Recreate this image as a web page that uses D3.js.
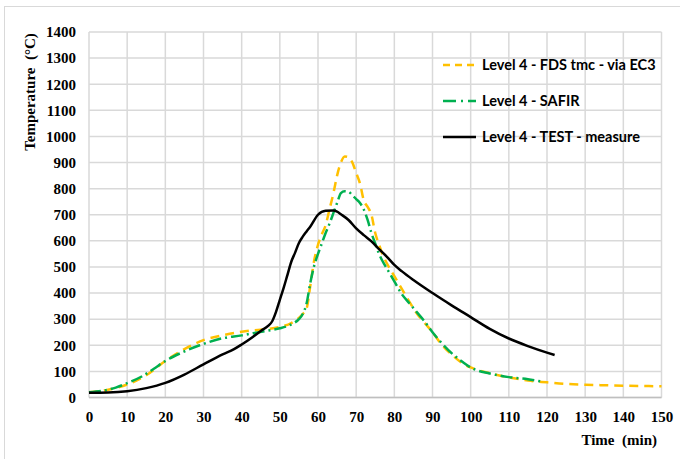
<!DOCTYPE html>
<html>
<head>
<meta charset="utf-8">
<script src="https://cdn.jsdelivr.net/npm/d3@7"></script>
<style>
  body { margin: 0; background: #fff; }
  svg { display: block; }
  .tick text { font-family: 'Liberation Serif', 'Times New Roman', serif !important; font-weight: bold; font-size: 15px; }
</style>
</head>
<body>
<svg id="chart" width="680" height="459"></svg>
<script>
// x ticks / y ticks
const timeTicks = [0, 10, 20, 30, 40, 50, 60, 70, 80, 90, 100, 110, 120, 130, 140, 150];
const tempTicks = [0, 100, 200, 300, 400, 500, 600, 700, 800, 900, 1000, 1100, 1200, 1300, 1400];

// Level 4 - FDS tmc - via EC3
const fdsTime = [0, 5, 10, 15, 20, 25, 30, 35, 40, 45, 50, 53, 55, 56, 57, 58, 59, 60, 61, 62, 63, 64, 65, 66, 67, 68, 69, 70, 71, 72, 73, 74, 75, 76, 77, 78, 80, 82, 84, 86, 88, 90, 92, 95, 98, 100, 105, 110, 113, 115, 120, 125, 130, 135, 140, 145, 150];
const fdsTemp = [20, 30, 50, 85, 140, 185, 220, 238, 252, 260, 270, 285, 305, 320, 340, 430, 525, 585, 625, 660, 720, 780, 850, 900, 923, 920, 900, 860, 820, 755, 730, 700, 630, 585, 545, 515, 465, 415, 365, 320, 285, 250, 210, 165, 130, 115, 93, 77, 70, 65, 58, 52, 49, 47, 45, 44, 43];

// Level 4 - SAFIR
const safirTime = [0, 5, 7, 10, 14, 17, 20, 24, 29, 35, 40, 43, 48, 50, 53, 55, 56, 57, 58, 59, 60, 61, 62, 63, 64, 65, 66, 67, 68, 69, 70, 71, 72, 73, 74, 75, 76, 77, 78, 80, 82, 84, 86, 88, 90, 92, 95, 98, 100, 105, 110, 115, 119];
const safirTemp = [20, 30, 38, 55, 82, 110, 140, 170, 200, 227, 238, 246, 259, 265, 280, 300, 320, 360, 440, 505, 550, 590, 630, 665, 705, 745, 783, 790, 788, 775, 760, 745, 720, 680, 630, 590, 550, 520, 495, 445, 395, 360, 325, 290, 250, 215, 170, 135, 115, 92, 78, 70, 60];

// Level 4 - TEST - measure
const testTime = [0, 5, 10, 15, 20, 25, 30, 35, 38, 40, 43, 45, 47, 48, 49, 50, 51, 52, 53, 54, 55, 56, 57, 58, 60, 62, 64, 65, 66, 68, 70, 72, 74, 76, 78, 80, 82, 85, 90, 95, 100, 105, 110, 115, 120, 122];
const testTemp = [18, 19, 24, 36, 56, 88, 127, 165, 185, 203, 233, 255, 275, 292, 328, 374, 420, 470, 520, 555, 592, 616, 636, 655, 700, 715, 716, 712, 702, 680, 648, 622, 598, 568, 540, 508, 483, 450, 400, 353, 308, 263, 226, 197, 172, 163];

const seriesNames = ["Level 4 - FDS tmc - via EC3", "Level 4 - SAFIR", "Level 4 - TEST - measure"];

const series = [
  { name: seriesNames[0], t: fdsTime, v: fdsTemp, color: "#FFC000", dash: "9,6", legendDash: "7,5" },
  { name: seriesNames[1], t: safirTime, v: safirTemp, color: "#00B050", dash: "12,4,2,4", legendDash: "13,5,2,5" },
  { name: seriesNames[2], t: testTime, v: testTemp, color: "#000000", dash: null, legendDash: null }
];

const margin = { top: 32, right: 18, bottom: 62, left: 89 };
const width = 661.5 - margin.left;
const height = 397.5 - margin.top;

const svg = d3.select("#chart");

// outer chart border
svg.append("rect")
  .attr("x", 4.5).attr("y", 6.5)
  .attr("width", 700).attr("height", 500)
  .attr("fill", "none").attr("stroke", "#d9d9d9").attr("stroke-width", 1);

const g = svg.append("g").attr("transform", "translate(" + margin.left + "," + margin.top + ")");

const x = d3.scaleLinear().domain([0, 150]).range([0, width]);
const y = d3.scaleLinear().domain([0, 1400]).range([height, 0]);

// gridlines
g.append("g").selectAll("line").data(timeTicks).join("line")
  .attr("x1", d => x(d)).attr("x2", d => x(d))
  .attr("y1", 0).attr("y2", height)
  .attr("stroke", "#d9d9d9").attr("stroke-width", 1.5);
g.append("g").selectAll("line").data(tempTicks).join("line")
  .attr("x1", 0).attr("x2", width)
  .attr("y1", d => y(d)).attr("y2", d => y(d))
  .attr("stroke", "#d9d9d9").attr("stroke-width", 1.5);

// bottom axis line
g.append("line")
  .attr("x1", 0).attr("x2", width).attr("y1", height).attr("y2", height)
  .attr("stroke", "#bfbfbf").attr("stroke-width", 1.5);

// axes (labels only)
const xAxis = d3.axisBottom(x).tickValues(timeTicks).tickFormat(d3.format("d")).tickSize(0).tickPadding(14);
const yAxis = d3.axisLeft(y).tickValues(tempTicks).tickFormat(d3.format("d")).tickSize(0).tickPadding(13);

const gx = g.append("g").attr("transform", "translate(0," + height + ")").call(xAxis);
const gy = g.append("g").call(yAxis);
[gx, gy].forEach(a => {
  a.attr("font-family", "'Liberation Serif', 'Times New Roman', serif").attr("font-size", 15);
  a.select(".domain").remove();
  a.selectAll("text").attr("fill", "#000");
});

// lines
const line = d3.line()
  .x(d => x(d[0]))
  .y(d => y(d[1]))
  .curve(d3.curveMonotoneX);

series.forEach(s => {
  const pts = s.t.map((t, i) => [t, s.v[i]]);
  g.append("path")
    .datum(pts)
    .attr("d", line)
    .attr("fill", "none")
    .attr("stroke", s.color)
    .attr("stroke-width", 2.5)
    .attr("stroke-dasharray", s.dash);
});

// axis titles
svg.append("text")
  .attr("transform", "translate(35,92) rotate(-90)")
  .attr("text-anchor", "middle")
  .style("font-family", "'Liberation Serif', 'Times New Roman', serif")
  .style("font-weight", "bold")
  .style("font-size", "15px")
  .style("white-space", "pre")
  .text("Temperature  (\u00B0C)");

svg.append("text")
  .attr("x", 657).attr("y", 445)
  .attr("text-anchor", "end")
  .style("font-family", "'Liberation Serif', 'Times New Roman', serif")
  .style("font-weight", "bold")
  .style("font-size", "15px")
  .style("white-space", "pre")
  .text("Time  (min)");

// legend
const legend = svg.append("g");
series.forEach((s, i) => {
  const ly = 65 + i * 36;
  legend.append("line")
    .attr("x1", 443).attr("x2", 476).attr("y1", ly).attr("y2", ly)
    .attr("stroke", s.color).attr("stroke-width", 2.5)
    .attr("stroke-dasharray", s.legendDash);
  legend.append("text")
    .attr("x", 482).attr("y", ly + 5)
    .style("font-family", "Lato, 'Liberation Sans', sans-serif")
    .style("font-weight", "bold")
    .style("font-size", "14.5px")
    .text(s.name);
});
</script>
</body>
</html>
